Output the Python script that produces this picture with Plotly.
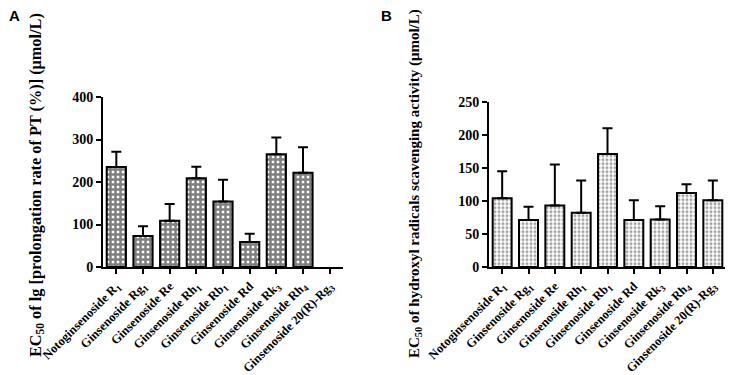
import plotly.graph_objects as go

categories = [
    "Notoginsenoside R<sub>1</sub>",
    "Ginsenoside Rg<sub>1</sub>",
    "Ginsenoside Re",
    "Ginsenoside Rh<sub>1</sub>",
    "Ginsenoside Rb<sub>1</sub>",
    "Ginsenoside Rd",
    "Ginsenoside Rk<sub>3</sub>",
    "Ginsenoside Rh<sub>4</sub>",
    "Ginsenoside 20(R)-Rg<sub>3</sub>",
]
a_values = [235, 73, 109, 209, 154, 59, 265, 222, None]
a_errors = [36, 23, 39, 27, 51, 19, 40, 60, None]
b_values = [104, 71, 93, 82, 171, 71, 72, 112, 101]
b_errors = [41, 20, 62, 49, 39, 30, 20, 13, 30]

FONT = "Liberation Serif"
W, H = 733, 375
OFF = 8  # page body margin

fig = go.Figure()

fig.add_trace(go.Bar(
    x=categories, y=a_values, xaxis="x", yaxis="y",
    marker=dict(color="white", line=dict(color="black", width=2),
                pattern=dict(shape="+", fgcolor="black", bgcolor="white",
                             size=5, solidity=0.75)),
    error_y=dict(type="data", array=a_errors, arrayminus=[0] * 9, symmetric=False,
                 color="black", thickness=2, width=5),
    showlegend=False,
))
fig.add_trace(go.Bar(
    x=categories, y=b_values, xaxis="x2", yaxis="y2",
    marker=dict(color="white", line=dict(color="black", width=2),
                pattern=dict(shape=".", fgcolor="#444", bgcolor="white",
                             size=4, solidity=0.45)),
    error_y=dict(type="data", array=b_errors, arrayminus=[0] * 9, symmetric=False,
                 color="black", thickness=2, width=5),
    showlegend=False,
))

axis_common = dict(showline=True, linecolor="black", linewidth=2, ticks="outside",
                   tickcolor="black", tickwidth=2, ticklen=5, showgrid=False,
                   zeroline=False, automargin=False,
                   tickfont=dict(family=FONT, size=14, color="black", weight="bold"))

x_common = dict(axis_common, tickangle=-45, type="category",
                tickfont=dict(family=FONT, size=12.5, color="black", weight="bold"))


def px_x(v):
    return (v - OFF) / W


def px_y(v):
    return 1 - (v - OFF) / H


fig.update_layout(
    width=W, height=H,
    margin=dict(l=0, r=0, t=0, b=0, autoexpand=False),
    plot_bgcolor="white", paper_bgcolor="white",
    bargap=0.28,
    xaxis=dict(x_common, domain=[px_x(103), px_x(343)], anchor="y"),
    yaxis=dict(axis_common, domain=[px_y(267), px_y(97)], range=[0, 400],
               tickvals=[0, 100, 200, 300, 400], anchor="x"),
    xaxis2=dict(x_common, domain=[px_x(489), px_x(726)], anchor="y2"),
    yaxis2=dict(axis_common, domain=[px_y(267), px_y(101.7)], range=[0, 250],
                tickvals=[0, 50, 100, 150, 200, 250], anchor="x2"),
    annotations=[
        dict(text="<b>A</b>", x=px_x(14), y=px_y(15), xref="paper", yref="paper",
             xanchor="center", yanchor="middle",
             showarrow=False, font=dict(family="Liberation Sans", size=15, color="black")),
        dict(text="<b>B</b>", x=px_x(386), y=px_y(15), xref="paper", yref="paper",
             xanchor="center", yanchor="middle",
             showarrow=False, font=dict(family="Liberation Sans", size=15, color="black")),
        dict(text="<b>EC<sub>50</sub> of lg [prolongation rate of PT (%)] (μmol/L)</b>",
             x=px_x(36), y=px_y(185), xref="paper", yref="paper", textangle=-90,
             xanchor="center", yanchor="middle",
             showarrow=False, font=dict(family=FONT, size=16.3, color="black")),
        dict(text="<b>EC<sub>50</sub> of hydroxyl radicals scavenging activity (μmol/L)</b>",
             x=px_x(415), y=px_y(184), xref="paper", yref="paper", textangle=-90,
             xanchor="center", yanchor="middle",
             showarrow=False, font=dict(family=FONT, size=15, color="black")),
    ],
)

fig.write_html("out.html")
